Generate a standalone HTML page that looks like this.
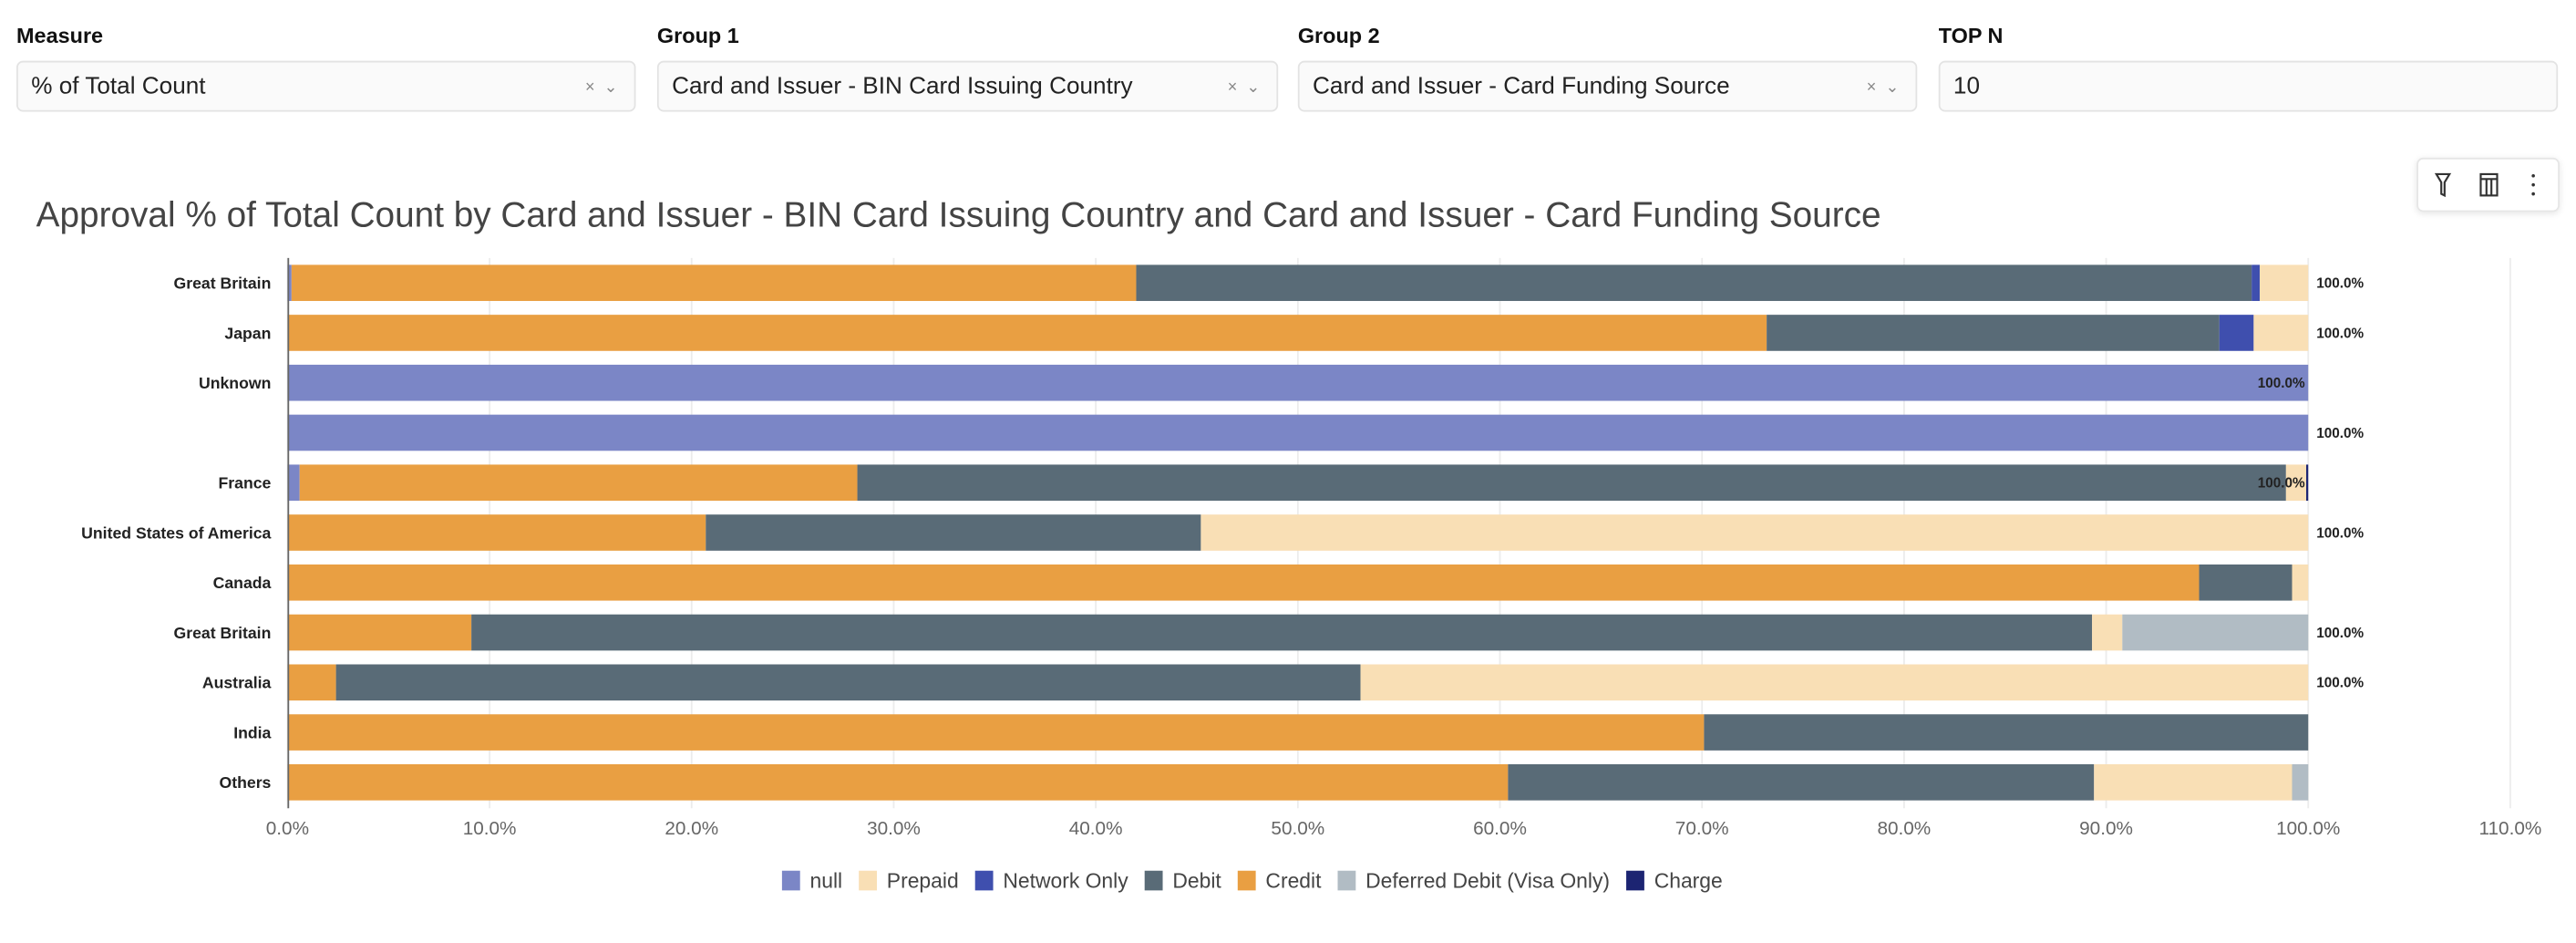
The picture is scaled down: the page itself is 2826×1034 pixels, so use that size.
<!DOCTYPE html>
<html><head><meta charset="utf-8">
<style>
html,body{margin:0;padding:0;background:#fff;overflow:hidden;width:2826px;height:1034px}
#root{position:absolute;left:0;top:0;width:1568px;height:574px;transform:scale(1.80230,1.80139);transform-origin:0 0;font-family:"Liberation Sans",sans-serif;color:#222}
.lbl{position:absolute;top:14px;font-size:13px;font-weight:bold;color:#111}
.dd{position:absolute;top:37px;height:31px;border:1px solid #e3e3e3;border-radius:4px;background:#fafafa;font-size:14.5px;line-height:31px;padding-left:8px;box-sizing:border-box;color:#222}
.dd .ic{position:absolute;right:10px;top:0;font-size:10px;color:#888}
</style></head><body>
<div id="root">
<div class="lbl" style="left:10px">Measure</div>
<div class="dd" style="left:10px;width:377px">% of Total Count<span class="ic">×&nbsp;&nbsp;⌄</span></div>
<div class="lbl" style="left:400px">Group 1</div>
<div class="dd" style="left:400px;width:378px">Card and Issuer - BIN Card Issuing Country<span class="ic">×&nbsp;&nbsp;⌄</span></div>
<div class="lbl" style="left:790px">Group 2</div>
<div class="dd" style="left:790px;width:377px">Card and Issuer - Card Funding Source<span class="ic">×&nbsp;&nbsp;⌄</span></div>
<div class="lbl" style="left:1180px">TOP N</div>
<div class="dd" style="left:1180px;width:377px">10</div>
<div style="position:absolute;left:1471px;top:96px;width:85px;height:31px;border:1px solid #e6e6e6;border-radius:4px;box-shadow:0 1px 4px rgba(0,0,0,.1);background:#fff">
<svg width="85" height="31">
<g fill="none" stroke="#333" stroke-width="1.2"><path d="M11 9h8l-3 5v8l-2-1v-7z"/></g>
<g fill="none" stroke="#333" stroke-width="1.2"><rect x="38" y="9" width="10" height="13"/><line x1="38" y1="12" x2="48" y2="12"/><line x1="41.5" y1="12" x2="41.5" y2="22"/><line x1="44.5" y1="12" x2="44.5" y2="22"/></g>
<g fill="#333"><circle cx="70" cy="10" r="1"/><circle cx="70" cy="15.5" r="1"/><circle cx="70" cy="21" r="1"/></g>
</svg></div>
<div style="position:absolute;left:22px;top:119px;font-size:21.5px;color:#444;white-space:nowrap">Approval % of Total Count by Card and Issuer - BIN Card Issuing Country and Card and Issuer - Card Funding Source</div>
<svg id="chart" width="1568" height="574" style="position:absolute;left:0;top:0"></svg>
</div>
<script>
const categories=["Great Britain","Japan","Unknown","","France","United States of America","Canada","Great Britain","Australia","India","Others"];
const seriesNames=["null","Credit","Debit","Network Only","Prepaid","Deferred Debit (Visa Only)","Charge"];
const nullVals=[0.2,0,100,100,0.6,0,0,0,0,0,0];
const creditVals=[41.8,73.2,0,0,27.6,20.7,94.6,9.1,2.4,70.1,60.4];
const debitVals=[55.2,22.4,0,0,70.7,24.5,4.6,80.2,50.7,29.9,29.0];
const networkVals=[0.4,1.7,0,0,0,0,0,0,0,0,0];
const prepaidVals=[2.4,2.7,0,0,1.0,54.8,0.8,1.5,46.9,0,9.8];
const deferredVals=[0,0,0,0,0,0,0,9.2,0,0,0.8];
const chargeVals=[0,0,0,0,0.1,0,0,0,0,0,0];
const totalLabels=["100.0%","100.0%","100.0%","100.0%","100.0%","100.0%","","100.0%","100.0%","",""];
const labelInside=[false,false,true,false,true,false,false,false,false,false,false];
const xTicks=[0,10,20,30,40,50,60,70,80,90,100,110];
const legendNames=["null","Prepaid","Network Only","Debit","Credit","Deferred Debit (Visa Only)","Charge"];

const colors={"null":"#7b86c6","Credit":"#e99f42","Debit":"#596b77","Network Only":"#3f4fae","Prepaid":"#f9dfb5","Deferred Debit (Visa Only)":"#b1bcc4","Charge":"#1c2472"};
const seriesVals=[nullVals,creditVals,debitVals,networkVals,prepaidVals,deferredVals,chargeVals];
const NS="http://www.w3.org/2000/svg";
const svg=document.getElementById('chart');
const x0=175,pxPer=12.3,top0=157,band=30.4,barH=22;
const xs=v=>x0+v*pxPer;
const yc=i=>top0+band*i+band/2;
function mk(t,a){const e=document.createElementNS(NS,t);for(const k in a)e.setAttribute(k,a[k]);svg.appendChild(e);return e;}
xTicks.forEach(t=>{
  const g=mk('line',{x1:xs(t),x2:xs(t),y1:157,y2:492,stroke:'#ececec','stroke-width':1});
  
  
  const tx=mk('text',{x:xs(t),y:508,'text-anchor':'middle','font-size':11.5,fill:'#666'});
  tx.textContent=t.toFixed(1)+'%';
  
  
});
categories.forEach((c,i)=>{
  const t=mk('text',{x:165,y:yc(i)+3.5,'text-anchor':'end','font-size':9.8,'font-weight':'bold',fill:'#222'});
  t.textContent=c;
  
  
  let acc=0;
  seriesVals.forEach((arr,s)=>{
    const v=arr[i];if(!v)return;
    const r=mk('rect',{x:xs(acc),y:yc(i)-barH/2,width:v*pxPer,height:barH,fill:colors[seriesNames[s]]});
    
    
    acc+=v;
  });
  if(totalLabels[i]){
    const inside=labelInside[i];
    const l=mk('text',{x:inside?xs(acc)-2:xs(acc)+5,y:yc(i)+3,'text-anchor':inside?'end':'start','font-size':8.5,'font-weight':'bold',fill:'#222'});
    l.textContent=totalLabels[i];
    
    
  }
});
const ax=mk('line',{x1:175.5,x2:175.5,y1:157,y2:492,stroke:'#666','stroke-width':1});


let lx=476;
legendNames.forEach(n=>{
  const r=mk('rect',{x:lx,y:530,width:11,height:12,fill:colors[n]});
  
  
  const t=mk('text',{x:lx+17,y:540.5,'font-size':12.7,fill:'#444'});
  t.textContent=n;
  
  
  lx+=17+t.getComputedTextLength()+10;
});
</script>
</body></html>
